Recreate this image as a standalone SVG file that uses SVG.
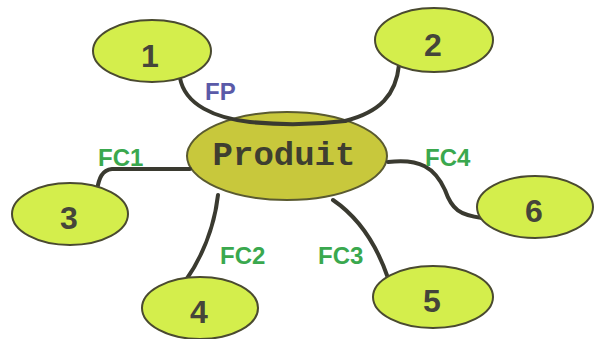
<svg xmlns="http://www.w3.org/2000/svg" width="601" height="339" viewBox="0 0 601 339">
<style>
.leaf{fill:#d4ee4c;stroke:#4a4a30;stroke-width:2}
.hub{fill:#c8c83c;stroke:#5a5a30;stroke-width:2}
.num{font-family:"Liberation Sans",Arial,sans-serif;font-weight:bold;font-size:32px;fill:#45453a;text-anchor:middle}
.lbl{font-family:"Liberation Sans",Arial,sans-serif;font-weight:bold;font-size:24px}
.fc{fill:#3aa84e}
.fp{fill:#5a5aa8}
.ln{fill:none;stroke:#3a3a30;stroke-width:4;stroke-linecap:round}
</style>
<rect width="601" height="339" fill="#ffffff"/>
<g id="produit">
<ellipse class="hub" cx="287" cy="156" rx="100" ry="44"/>
<text x="284" y="165" text-anchor="middle" font-family="'Liberation Mono',monospace" font-weight="bold" font-size="34" fill="#3e3e30">Produit</text>
</g>
<g id="connectors">
<path class="ln" d="M180,78 C185,105 215,118 250,122 C290,126 320,124 345,121"/>
<path class="ln" d="M399,65 C396,95 380,112 345,121"/>
<path class="ln" d="M190,169 L112,169 C102,170 99,178 97,190"/>
<path class="ln" d="M218,195 C214,230 200,260 186,280"/>
<path class="ln" d="M333,200 C355,215 375,240 388,278"/>
<path class="ln" d="M388,162 C420,158 435,168 445,190 C452,210 460,215 482,218"/>
</g>
<g id="n1"><ellipse class="leaf" cx="152" cy="51" rx="59" ry="31"/><text class="num" x="150" y="67">1</text></g>
<g id="n2"><ellipse class="leaf" cx="434" cy="40" rx="59" ry="32"/><text class="num" x="433" y="56">2</text></g>
<g id="n3"><ellipse class="leaf" cx="70" cy="214" rx="58" ry="31"/><text class="num" x="69" y="229">3</text></g>
<g id="n4"><ellipse class="leaf" cx="200" cy="308" rx="58" ry="31"/><text class="num" x="199" y="323">4</text></g>
<g id="n5"><ellipse class="leaf" cx="433" cy="297" rx="60" ry="31"/><text class="num" x="432" y="312">5</text></g>
<g id="n6"><ellipse class="leaf" cx="535" cy="207" rx="58" ry="31"/><text class="num" x="534" y="222">6</text></g>
<g id="labels">
<text class="lbl fp" x="205" y="100">FP</text>
<text class="lbl fc" x="98" y="166">FC1</text>
<text class="lbl fc" x="220" y="264">FC2</text>
<text class="lbl fc" x="318" y="264">FC3</text>
<text class="lbl fc" x="425" y="166">FC4</text>
</g>
</svg>
